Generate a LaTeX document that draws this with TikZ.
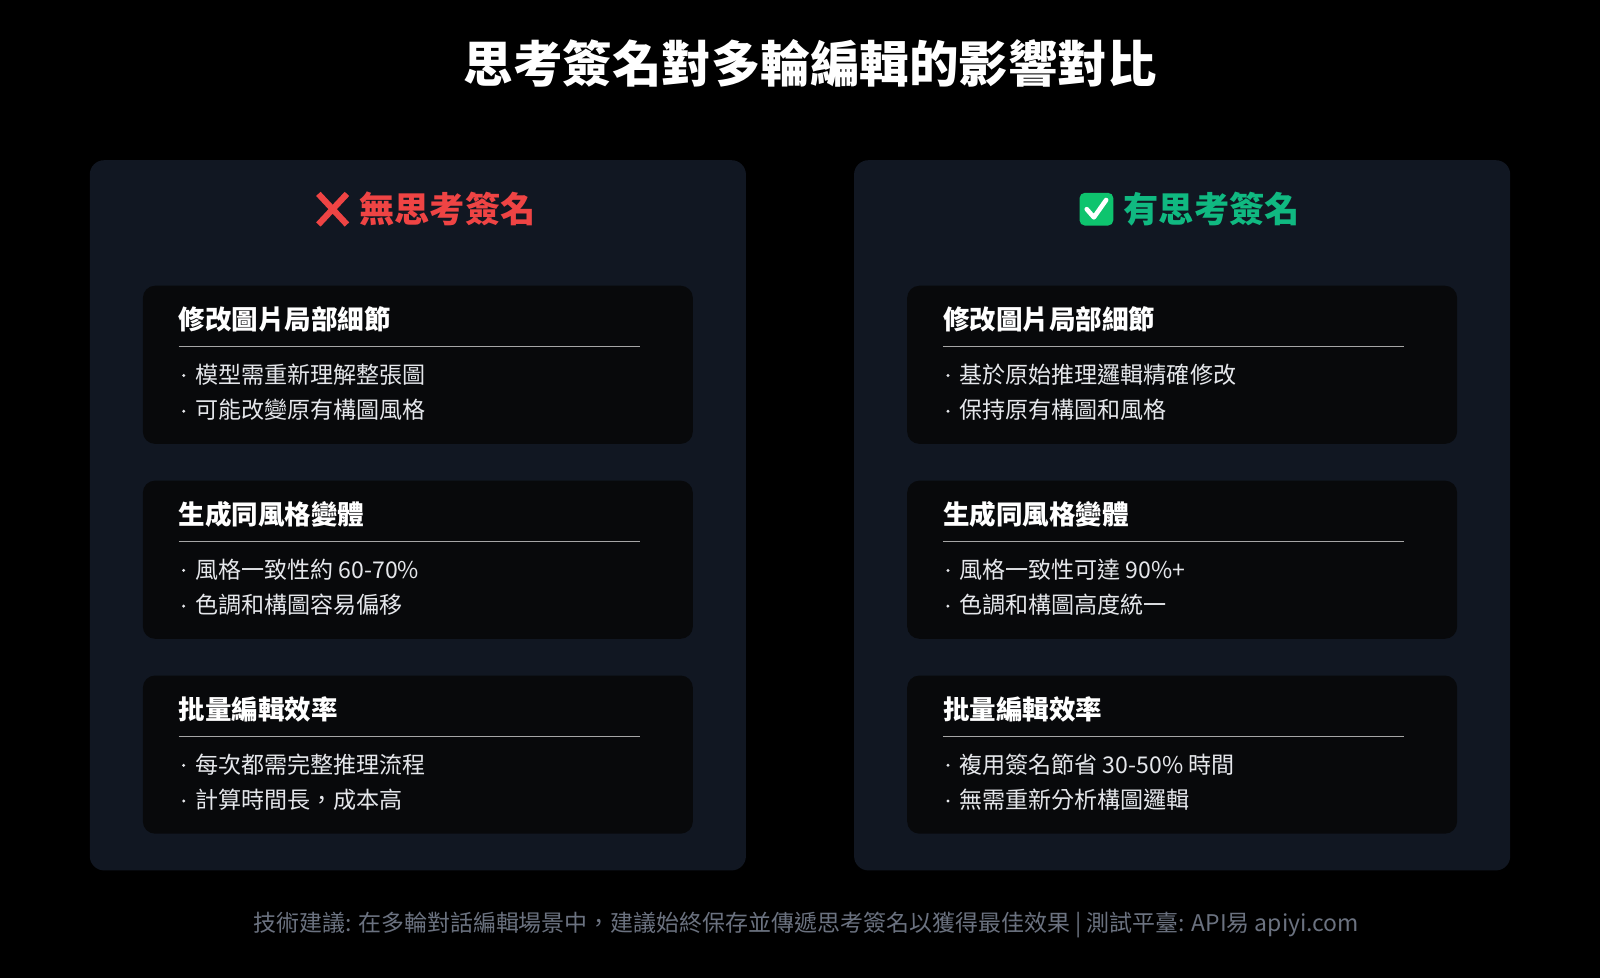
\documentclass[tikz,border=0pt]{standalone}
\usepackage{fontspec}
\setmainfont{Noto Sans CJK TC}
\definecolor{bg}{HTML}{000000}
\definecolor{panel}{HTML}{111722}
\definecolor{card}{HTML}{08090B}
\definecolor{redc}{HTML}{EF4444}
\definecolor{greenc}{HTML}{10B981}
\definecolor{txt}{HTML}{E5E7EB}
\definecolor{foot}{HTML}{6B7280}
\begin{document}
\begin{tikzpicture}[x=1pt,y=-1pt,
  panelbox/.style={fill=panel,rounded corners=14pt},
  cardbox/.style={fill=card,rounded corners=12pt},
  ctitle/.style={anchor=west,inner sep=0pt,text=white,font=\fontsize{26}{30}\selectfont\bfseries},
  bullet/.style={anchor=west,inner sep=0pt,text=txt,font=\fontsize{22.6}{26}\selectfont},
  sep/.style={draw=gray!70,line width=1pt}]
\fill[bg] (0,0) rectangle (1568,958);
\useasboundingbox (0,0) rectangle (1568,958);
\node[text=white,font=\fontsize{48.5}{54}\selectfont\bfseries] (title) at (794,62) {思考簽名對多輪編輯的影響對比};
\fill[panelbox] (88,157) rectangle (731,853);
\fill[panelbox] (837,157) rectangle (1480,853);
% headers
\node[anchor=west,inner sep=0pt,text=redc,font=\fontsize{34.5}{40}\selectfont\bfseries] (hl) at (352,205) {無思考簽名};
\draw[redc,line width=6pt] (312,190) -- (340,220) (340,190) -- (312,220);
\node[anchor=west,inner sep=0pt,text=greenc,font=\fontsize{34.5}{40}\selectfont\bfseries] (hr) at (1101,205) {有思考簽名};
\fill[greenc!85!green,rounded corners=5pt] (1058,189) rectangle (1091,221);
\draw[white,line width=4.5pt,line cap=round,line join=round] (1065,205) -- (1072,213) -- (1084,196);
% cards
\foreach \px/\n/\ta/\ba/\bb/\tb/\bc/\bd/\tc/\be/\bf in {
 140/L/修改圖片局部細節/模型需重新理解整張圖/可能改變原有構圖風格/生成同風格變體/風格一致性約 60-70\%/色調和構圖容易偏移/批量編輯效率/每次都需完整推理流程/計算時間長，成本高,
 889/R/修改圖片局部細節/基於原始推理邏輯精確修改/保持原有構圖和風格/生成同風格變體/風格一致性可達 90\%+/色調和構圖高度統一/批量編輯效率/複用簽名節省 30-50\% 時間/無需重新分析構圖邏輯}{
 \foreach \y/\t/\ua/\ub/\k in {280/\ta/\ba/\bb/1,471/\tb/\bc/\bd/2,662/\tc/\be/\bf/3}{
  \fill[cardbox] (\px,\y) rectangle (\px+539,\y+155);
  \node[ctitle] (t\n\k) at (\px+35,\y+33) {\t};
  \draw[sep] (\px+35,\y+60) -- (\px+487,\y+60);
  \fill[txt] (\px+40,\y+88) circle (1.6pt);
  \node[bullet] (a\n\k) at (\px+51,\y+87) {\ua};
  \fill[txt] (\px+40,\y+123) circle (1.6pt);
  \node[bullet] (b\n\k) at (\px+51,\y+122) {\ub};
 }}
\node[text=foot,font=\fontsize{22.5}{26}\selectfont] (footer) at (790,906) {技術建議: 在多輪對話編輯場景中，建議始終保存並傳遞思考簽名以獲得最佳效果 | 測試平臺: API易 apiyi.com};
\end{tikzpicture}
\end{document}
